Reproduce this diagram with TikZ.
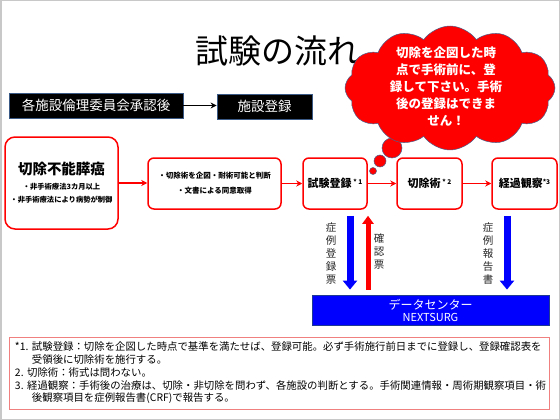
\documentclass[tikz,border=0pt]{standalone}
\usepackage{fontspec}
\setmainfont{Noto Sans CJK JP}
\usetikzlibrary{shapes.symbols,arrows.meta}
\definecolor{slate}{HTML}{3B5A86}
\definecolor{cloudedge}{HTML}{4A5F8C}
\definecolor{pinkedge}{HTML}{F08080}
\definecolor{dcblue}{HTML}{0000FF}
\definecolor{dcedge}{HTML}{1F3A93}
\definecolor{framegray}{HTML}{C8C8C8}
\begin{document}
\begin{tikzpicture}[x=1pt,y=-1pt,
 blackbox/.style={fill=black,draw=slate,line width=0.8pt,text=white,font=\fontsize{13.5}{14}\selectfont,inner sep=0pt},
 flowbox/.style={draw=red,line width=1.5pt,fill=white,rounded corners=6pt,inner sep=0pt,align=center,font=\bfseries},
 redarrow/.style={draw=red,line width=1.2pt,-{Stealth[length=6pt,width=6pt]}},
 bluearrow/.style={draw=dcblue,line width=7pt,-{Triangle[length=9pt,width=14pt]}},
 upredarrow/.style={draw=red,line width=5pt,-{Triangle[length=8pt,width=11pt]}},
 vlabel/.style={align=center,font=\fontsize{10.5}{13}\selectfont,inner sep=0pt,text=black!85},
 bubble/.style={fill=red,draw=cloudedge,line width=0.5pt}]
\useasboundingbox (0,0) rectangle (560,420);
\draw[framegray,line width=1.5pt] (0.75,0.75) rectangle (559.25,419.25);
% title
\node[font=\fontsize{33}{35}\selectfont,inner sep=0pt] (title) at (278,51) {試験の流れ};
% top row
\node[blackbox,minimum width=174pt,minimum height=25pt] (ethics) at (96,105.5) {各施設倫理委員会承認後};
\node[blackbox,minimum width=95pt,minimum height=25pt] (reg) at (264.5,106.5) {施設登録};
\draw[line width=1pt,-{Stealth[length=6pt,width=6pt]}] (ethics.east) -- (reg.west |- ethics.east);
% flow boxes
\node[flowbox,rounded corners=10pt,minimum width=113pt,minimum height=92pt] (A) at (61.5,183)
 {{\fontsize{14.5}{16}\selectfont 切除不能膵癌}\\[3pt]
  {\fontsize{7.3}{13}\selectfont ・非手術療法3カ月以上}\\[1pt]
  {\fontsize{7.3}{13}\selectfont ・非手術療法により病勢が制御}};
\node[flowbox,minimum width=133pt,minimum height=51pt,font=\bfseries\fontsize{7.5}{15}\selectfont] (B) at (214.5,183.5)
 {・切除術を企図・耐術可能と判断\\・文書による同意取得};
\node[flowbox,minimum width=64pt,minimum height=51pt,font=\bfseries\fontsize{11}{13}\selectfont] (C) at (335,183.5)
 {試験登録\,\raisebox{3.5pt}{\fontsize{6.5}{7}\selectfont * 1}};
\node[flowbox,minimum width=65pt,minimum height=51pt,font=\bfseries\fontsize{11}{13}\selectfont] (D) at (429.5,183.5)
 {切除術\,\raisebox{3.5pt}{\fontsize{6.5}{7}\selectfont * 2}};
\node[flowbox,minimum width=65pt,minimum height=51pt,font=\bfseries\fontsize{11}{13}\selectfont] (E) at (524.5,183.5)
 {経過観察\raisebox{3.5pt}{\fontsize{6.5}{7}\selectfont *3}};
\draw[redarrow] (A.east) -- (A.east -| B.west);
\draw[redarrow] (B.east) -- (C.west);
\draw[redarrow] (C.east) -- (D.west);
\draw[redarrow] (D.east) -- (E.west);
% cloud
\node[bubble] (b1) at (373,171) [circle,minimum size=7pt,inner sep=0pt] {};
\node[bubble] (b2) at (380,161) [circle,minimum size=12pt,inner sep=0pt] {};
\node[bubble] (b3) at (392,148) [circle,minimum size=20pt,inner sep=0pt] {};
\node[cloud,cloud puffs=12,cloud puff arc=110,cloud ignores aspect,minimum width=210pt,minimum height=124pt,inner sep=0pt,bubble] (cloud) at (450,88) {};
\node[text=white,font=\bfseries\fontsize{12.5}{17}\selectfont,align=center,inner sep=0pt] (cloudtext) at (446,87)
 {切除を企図した時\\点で手術前に、登\\録して下さい。手術\\後の登録はできま\\せん！};
% data center
\node[fill=dcblue,draw=dcedge,line width=0.8pt,minimum width=237pt,minimum height=30pt,inner sep=0pt,text=white,align=center] (DC) at (430.5,310)
 {{\fontsize{12}{15}\selectfont データセンター}\\{\fontsize{11}{15}\selectfont NEXTSURG}};
\coordinate (c1) at ([xshift=15pt,yshift=-6pt]C.south);
\coordinate (c2) at ([xshift=33pt,yshift=-6pt]C.south);
\coordinate (c3) at ([xshift=-17.5pt,yshift=-6pt]E.south);
\draw[bluearrow,shorten >=5pt] (c1) -- (c1 |- DC.north);
\draw[upredarrow,shorten <=5pt] (c2 |- DC.north) -- (c2);
\draw[bluearrow,shorten >=5pt] (c3) -- (c3 |- DC.north);
\node[vlabel] (l1) at (331,254) {症\\例\\登\\録\\票};
\node[vlabel] (l2) at (379,252) {確\\認\\票};
\node[vlabel] (l3) at (488,254) {症\\例\\報\\告\\書};
% notes
\node[draw=pinkedge,line width=1pt,minimum height=72pt,text width=528pt,inner xsep=6pt,inner ysep=0pt,align=left,
 font=\fontsize{10.4}{12.8}\selectfont] (notes) at (279,373)
 {*1.~試験登録：切除を企図した時点で基準を満たせば、登録可能。必ず手術施行前日までに登録し、登録確認表を\\
  \hspace*{17pt}受領後に切除術を施行する。\\
  *2.~切除術：術式は問わない。\\
  *3.~経過観察：手術後の治療は、切除・非切除を問わず、各施設の判断とする。手術関連情報・周術期観察項目・術\\
  \hspace*{17pt}後観察項目を症例報告書(CRF)で報告する。};
\end{tikzpicture}
\end{document}
